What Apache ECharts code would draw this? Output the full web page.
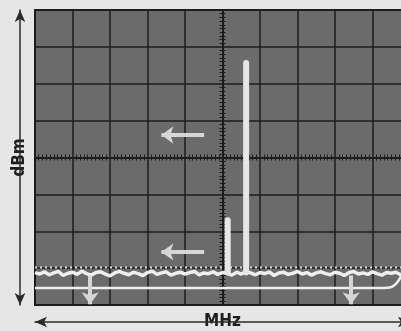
<!DOCTYPE html>
<html>
<head>
<meta charset="utf-8">
<script src="https://cdn.jsdelivr.net/npm/echarts@6/dist/echarts.min.js"></script>
<style>
  html, body { margin: 0; padding: 0; background: #e6e6e6; }
  #chart { width: 401px; height: 331px; }
</style>
</head>
<body>
<div id="chart"></div>
<script>
// graticule in screen divisions, 0,0 at the centre of the display
const xRange = [-5, 5]
const yRange = [-4, 4]

// noise floor trace, one reading every 1/8 division from the left edge
const noiseStart = -5
const noiseStep = 0.125
const noiseFloor = [
  -3.12, -3.16, -3.10, -3.18, -3.13, -3.09, -3.20, -3.14, -3.11, -3.17,
  -3.08, -3.15, -3.19, -3.12, -3.10, -3.16, -3.21, -3.13, -3.09, -3.14,
  -3.18, -3.11, -3.15, -3.20, -3.12, -3.08, -3.17, -3.13, -3.10, -3.19,
  -3.14, -3.11, -3.16, -3.12, -3.09, -3.18, -3.13, -3.15, -3.10, -3.17,
  -3.12, -3.14, -3.19, -3.11, -3.16, -3.09, -3.13, -3.18, -3.12, -3.15,
  -3.10, -3.20, -3.13, -3.11, -3.17, -3.14, -3.09, -3.16, -3.12, -3.19,
  -3.13, -3.10, -3.15, -3.18, -3.11, -3.14, -3.20, -3.12, -3.09, -3.16,
  -3.13, -3.17, -3.10, -3.15, -3.19, -3.12, -3.14, -3.11, -3.18, -3.13, -3.15,
]
const noisePeakLevel = -2.98

// signal lines (x, y in divisions)
const carrier = [[0.63, -3.12], [0.63, 2.56]]
const spur = [[0.14, -3.12], [0.14, -1.70]]
const refTrace = [[-5, -3.54], [4.3, -3.54], [4.48, -3.52], [4.6, -3.45], [4.7, -3.33], [4.8, -3.15]]

// annotation arrows: [from, to]
const leftArrows = [
  [[-0.49, 0.61], [-1.63, 0.61]],
  [[-0.49, -2.56], [-1.63, -2.56]],
]
const downArrows = [
  [[-3.53, -3.2], [-3.53, -3.98]],
  [[3.43, -3.2], [3.43, -3.98]],
]

const ink = '#1c1c1c'
const trace = '#efefef'
const font = '"Liberation Sans Narrow", "DejaVu Sans Condensed", "Roboto", sans-serif'

const noiseData = noiseFloor.map((v, i) => [noiseStart + i * noiseStep, v])
const peakData = [[xRange[0], noisePeakLevel], [xRange[1], noisePeakLevel]]

const toMark = (pairs) => pairs.map(([a, b]) => [{ coord: a }, { coord: b }])

const base = { type: 'value', min: xRange[0], max: xRange[1], interval: 1, axisLabel: { show: false } }
const baseY = { type: 'value', min: yRange[0], max: yRange[1], interval: 1, axisLabel: { show: false } }

const centreLine = { onZero: true, lineStyle: { color: ink, width: 1.5 } }
const centreTicks = { show: true, splitNumber: 10, length: 3, lineStyle: { color: ink, width: 1 } }

const chart = echarts.init(document.getElementById('chart'), null, { renderer: 'canvas' })

chart.setOption({
  animation: false,
  backgroundColor: '#e6e6e6',
  grid: {
    left: 35, top: 10, width: 375, height: 295,
    outerBoundsMode: 'none', containLabel: false,
    show: true, backgroundColor: '#6b6b6b', borderColor: ink, borderWidth: 2,
  },
  xAxis: [
    { ...base, position: 'bottom', axisLine: centreLine, axisTick: { show: false },
      minorTick: centreTicks, splitLine: { show: true, lineStyle: { color: ink, width: 1.5 } } },
    { ...base, position: 'bottom', axisLine: centreLine, axisTick: { show: false, inside: true },
      minorTick: centreTicks, splitLine: { show: false } },
    { ...base, position: 'bottom', offset: 17,
      axisLine: { onZero: false, symbol: ['arrow', 'arrow'], symbolSize: [8, 12], lineStyle: { color: '#2a2a2a', width: 1.5 } },
      axisTick: { show: false }, splitLine: { show: false },
      name: 'MHz', nameLocation: 'middle', nameGap: 0,
      nameTextStyle: { fontFamily: font, fontWeight: 'bold', fontSize: 17, color: '#1e1e1e',
        backgroundColor: '#e6e6e6', padding: [0, 7], verticalAlign: 'middle', align: 'center' } },
  ],
  yAxis: [
    { ...baseY, position: 'left', axisLine: centreLine, axisTick: { show: false },
      minorTick: centreTicks, splitLine: { show: true, lineStyle: { color: ink, width: 1.5 } } },
    { ...baseY, position: 'left', axisLine: centreLine, axisTick: { show: false, inside: true },
      minorTick: centreTicks, splitLine: { show: false } },
    { ...baseY, position: 'left', offset: 15,
      axisLine: { onZero: false, symbol: ['arrow', 'arrow'], symbolSize: [8, 12], lineStyle: { color: '#2a2a2a', width: 1.5 } },
      axisTick: { show: false }, splitLine: { show: false },
      name: 'dBm', nameLocation: 'middle', nameGap: 0, nameRotate: 90,
      nameTextStyle: { fontFamily: font, fontWeight: 'bold', fontSize: 17, color: '#1e1e1e',
        backgroundColor: '#e6e6e6', padding: [0, 6], verticalAlign: 'middle', align: 'center' } },
  ],
  series: [
    { name: 'noise peaks', type: 'line', data: peakData, symbol: 'none',
      lineStyle: { color: '#dcdcdc', width: 2, type: [2, 3] } },
    { name: 'noise', type: 'line', data: noiseData, symbol: 'none',
      lineStyle: { color: trace, width: 3.5 } },
    { name: 'reference', type: 'line', data: refTrace, symbol: 'none', smooth: 0.4,
      lineStyle: { color: trace, width: 2.5 } },
    { name: 'spur', type: 'line', data: spur, symbol: 'none',
      lineStyle: { color: '#e6e6e6', width: 6, cap: 'round' } },
    { name: 'carrier', type: 'line', data: carrier, symbol: 'none',
      lineStyle: { color: '#e6e6e6', width: 6, cap: 'round' } },
    { name: 'arrows', type: 'line', data: [], silent: true,
      markLine: {
        silent: true, symbol: ['none', 'arrow'], symbolSize: [13, 12],
        label: { show: false },
        lineStyle: { color: '#d6d6d6', width: 4, type: 'solid' },
        data: toMark(leftArrows).concat(toMark(downArrows)),
      } },
  ],
})
</script>
</body>
</html>
